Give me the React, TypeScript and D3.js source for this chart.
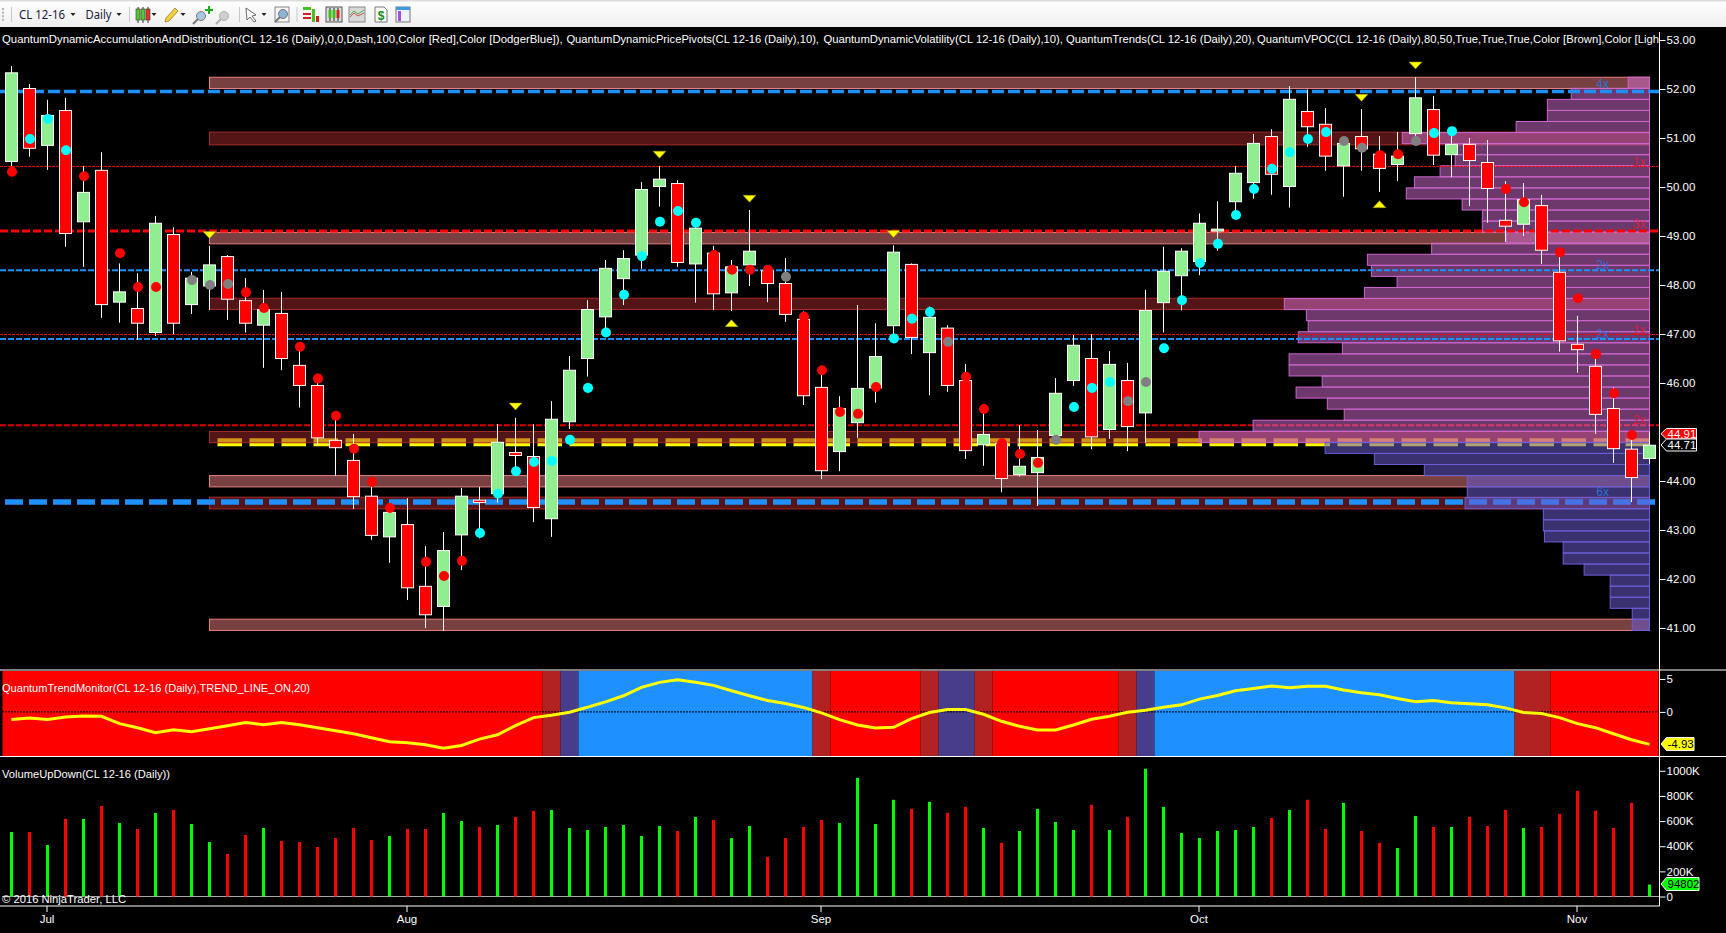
import React, { useEffect, useRef } from "react";
import * as d3 from "d3";

/* ---------- price bars, CL 12-16 daily ---------- */
const opens = [
  50.52, 52.01, 50.85, 51.56, 49.29, 50.34, 47.65, 47.52, 47.03, 49.03,
  47.6, 47.98, 48.58, 47.68, 47.18, 47.42, 46.36, 45.95, 44.83, 44.42,
  43.69, 42.86, 43.11, 41.85, 41.44, 42.9, 43.61, 43.74, 44.58, 44.5,
  43.23, 45.21, 46.5, 47.35, 48.13, 48.61, 50.01, 50.07, 48.43, 48.65,
  47.84, 48.41, 48.29, 48.03, 47.3, 45.91, 44.6, 45.19, 45.9, 47.17,
  48.42, 46.62, 47.12, 46.05, 44.74, 44.77, 44.13, 44.17, 44.93, 46.05,
  46.5, 45.05, 46.05, 45.39, 47.64, 48.19, 48.48, 49.1, 49.7, 50.09,
  51.03, 50.01, 51.54, 51.28, 50.43, 51.03, 50.67, 50.46, 51.09, 51.58,
  50.66, 50.87, 50.5, 49.32, 49.24, 49.62, 48.26, 46.79, 46.34, 45.48,
  44.65, 44.46,
];
const highs = [
  52.47, 52.1, 51.78, 51.82, 50.43, 50.71, 48.44, 48.24, 49.41, 49.18,
  48.27, 48.8, 48.61, 48.14, 47.9, 47.86, 46.74, 46.09, 45.33, 44.96,
  43.98, 43.45, 43.65, 42.67, 42.96, 43.86, 43.88, 45.16, 45.29, 45.16,
  45.63, 46.55, 47.69, 48.51, 48.71, 50.1, 50.43, 50.14, 49.33, 48.8,
  48.51, 49.53, 48.37, 48.55, 47.46, 46.26, 45.73, 47.59, 47.22, 48.81,
  48.44, 47.56, 47.18, 46.39, 45.47, 44.85, 45.14, 45.04, 46.1, 46.98,
  47.0, 46.65, 46.41, 47.9, 48.78, 48.75, 49.46, 49.71, 50.43, 51.08,
  51.18, 52.06, 51.99, 51.61, 50.94, 51.59, 51.04, 51.12, 52.24, 51.86,
  51.14, 51.0, 50.96, 50.12, 50.08, 49.84, 48.67, 47.37, 46.59, 45.91,
  44.94, 45.01,
];
const lows = [
  50.42, 50.62, 50.35, 48.78, 48.37, 47.33, 47.23, 46.88, 46.96, 47.0,
  47.41, 47.49, 47.29, 47.03, 46.31, 46.26, 45.5, 44.73, 44.1, 43.43,
  42.8, 42.33, 41.57, 41.0, 40.94, 42.18, 42.83, 43.56, 44.22, 43.16,
  42.86, 45.06, 46.13, 47.08, 47.59, 48.33, 49.6, 48.37, 47.64, 47.49,
  47.47, 47.98, 47.65, 47.25, 45.55, 44.04, 44.2, 44.88, 45.6, 46.88,
  46.59, 45.75, 45.82, 44.45, 44.31, 43.77, 44.09, 43.49, 44.84, 45.94,
  44.65, 44.86, 44.61, 44.78, 47.03, 47.48, 48.2, 48.7, 49.46, 49.76,
  49.84, 49.58, 50.82, 50.33, 49.8, 50.33, 49.9, 50.12, 50.86, 50.45,
  50.2, 49.61, 49.27, 48.88, 49.0, 48.43, 46.64, 46.21, 44.96, 44.37,
  43.57, 44.35,
];
const closes = [
  52.33, 50.79, 51.46, 49.05, 49.89, 47.6, 47.86, 47.22, 49.26, 47.22,
  48.14, 48.41, 47.71, 47.22, 47.5, 46.5, 45.95, 44.88, 44.68, 43.68,
  42.89, 43.36, 41.82, 41.27, 42.58, 43.69, 43.56, 44.79, 44.52, 43.46,
  45.26, 46.26, 47.5, 48.34, 48.54, 49.95, 50.16, 48.46, 49.16, 47.82,
  48.37, 48.69, 48.03, 47.4, 45.74, 44.21, 45.48, 45.89, 46.54, 48.67,
  46.93, 47.34, 45.95, 44.62, 44.95, 44.05, 44.3, 44.48, 45.79, 46.77,
  44.9, 46.38, 45.11, 47.48, 48.28, 48.69, 49.26, 49.14, 50.28, 50.89,
  50.26, 51.79, 51.23, 50.63, 50.89, 50.78, 50.38, 50.63, 51.82, 50.65,
  50.87, 50.54, 49.97, 49.2, 49.74, 48.71, 46.86, 46.68, 45.36, 44.66,
  44.07, 44.73,
];

/* ---------- dots from the volatility study ---------- */
const dotPrices = [
  50.31, 50.98, 51.39, 50.75, 50.22, null, 48.65, 47.96, 47.96, null,
  48.1, 48.0, 48.02, 47.85, 47.53, null, 46.74, 46.09, 45.33, 44.66,
  43.98, 43.45, null, 42.35, 42.06, 42.37, 42.94, 43.74, 44.2, 44.39,
  44.41, 44.84, 45.9, 47.03, 47.8, 48.59, 49.29, 49.51, 49.27, 48.61,
  48.31, 48.31, 48.31, 48.17, 47.35, 46.26, 45.41, 45.37, 45.92, 46.91,
  47.31, 47.45, 46.84, 46.13, 45.47, 44.77, 44.55, 44.37, 44.84, 45.51,
  45.9, 46.02, 45.63, 46.02, 46.71, 47.69, 48.45, 48.84, 49.43, 49.96,
  50.37, 50.71, 50.98, 51.12, 50.94, 50.8, 50.65, 50.67, 50.94, 51.1,
  51.14, null, null, 49.96, 49.69, null, 48.67, 47.73, 46.59, 45.79,
  44.94, null,
];
const dotKinds = [
  "r", "c", "c", "c", "r", "", "r", "r", "r", "",
  "g", "g", "g", "r", "r", "", "r", "r", "r", "r",
  "r", "r", "", "r", "r", "r", "c", "c", "c", "c",
  "c", "c", "c", "c", "c", "c", "c", "c", "c", "r",
  "r", "r", "r", "g", "r", "r", "r", "r", "r", "c",
  "c", "c", "g", "r", "r", "r", "r", "r", "g", "c",
  "c", "c", "g", "g", "c", "c", "c", "c", "c", "c",
  "c", "c", "c", "c", "g", "g", "r", "r", "g", "c",
  "c", "", "", "r", "r", "", "r", "r", "r", "r",
  "r", "",
];

/* ---------- price pivots ---------- */
const pivotDownBars = [11, 28, 36, 41, 49, 75, 78];
const pivotDownPrices = [49.02, 45.52, 50.66, 49.76, 49.04, 51.82, 52.48];
const pivotUpBars = [40, 76];
const pivotUpPrices = [47.22, 49.65];

/* ---------- accumulation / distribution bands ---------- */
const bandTops = [52.24, 51.12, 49.07, 47.73, 45.01, 44.11, 43.67, 41.18];
const bandBottoms = [52.01, 50.86, 48.84, 47.5, 44.78, 43.88, 43.43, 40.95];
const bandKinds = ["light", "dark", "light", "dark", "dark", "light", "dark", "light"];
const bandStartBar = 11;

/* ---------- volume point of control rows, top to bottom ---------- */
const vpocTop = 52.24;
const vpocBottom = 40.95;
const vpocVolumes = [
  58, 213, 278, 278, 363, 673, 529, 529, 570, 640,
  662, 510, 455, 455, 390, 593, 768, 757, 687, 776,
  994, 934, 929, 956, 836, 981, 981, 891, 962, 877,
  831, 1079, 1226, 883, 749, 613, 496, 496, 502, 289,
  289, 286, 235, 235, 178, 107, 107, 107, 47, 47,
];
const vpocLabelTexts = ["4x", "1x", "3x", "2x", "1x", "2x", "2x", "6x"];
const vpocLabelPrices = [52.12, 50.52, 49.25, 48.42, 47.1, 47.01, 45.26, 43.78];

/* ---------- dynamic levels ---------- */
const levelWideBlue = [51.95];
const levelWideBlueLow = [43.57];
const levelWideRed = [49.1];
const levelMidRed = [45.14];
const levelThinRed = [50.42, 46.99];
const levelThinBlue = [48.3, 46.9];
const levelVpoc = [44.79];

/* ---------- trend monitor ---------- */
const trendValues = [
  -1.17, -0.92, -1.17, -0.77, -0.61, -0.66, -1.79, -2.4, -3.16, -2.7,
  -3.0, -2.55, -2.09, -1.63, -1.94, -1.63, -1.94, -2.4, -2.86, -3.32,
  -3.93, -4.54, -4.69, -5.0, -5.51, -5.1, -4.13, -3.47, -2.09, -0.87,
  -0.51, -0.05, 0.71, 1.53, 2.45, 3.72, 4.49, 4.9, 4.49, 4.03,
  3.21, 2.45, 1.73, 1.28, 0.66, -0.15, -1.17, -1.99, -2.45, -2.35,
  -1.02, -0.1, 0.36, 0.36, -0.36, -1.43, -2.19, -2.76, -2.76, -1.99,
  -1.12, -0.66, -0.05, 0.26, 0.71, 1.07, 1.94, 2.5, 3.21, 3.57,
  3.93, 3.67, 3.88, 3.88, 3.32, 2.91, 2.6, 2.04, 1.53, 1.73,
  1.38, 1.22, 1.07, 0.61, -0.1, -0.26, -0.87, -1.79, -2.4, -3.32,
  -4.23, -4.93,
];
const trendRunColors = [
  "#ff0000", "#b22222", "#483d8b", "#1e90ff", "#b22222", "#ff0000", "#b22222", "#483d8b",
  "#b22222", "#ff0000", "#b22222", "#483d8b", "#1e90ff", "#b22222", "#ff0000",
];
const trendRunLengths = [30, 1, 1, 13, 1, 5, 1, 2, 1, 7, 1, 1, 20, 2, 6];

/* ---------- volume, thousands of contracts ---------- */
const volumes = [
  513, 513, 410, 617, 617, 720, 585, 537, 665, 689,
  577, 433, 338, 489, 545, 441, 433, 394, 465, 545,
  449, 481, 537, 537, 665, 601, 553, 569, 633, 681,
  689, 545, 529, 553, 569, 481, 561, 521, 633, 609,
  465, 561, 314, 465, 553, 609, 585, 944, 577, 769,
  697, 753, 665, 713, 545, 426, 521, 697, 593, 529,
  729, 529, 633, 1016, 713, 505, 465, 521, 529, 553,
  625, 689, 769, 537, 745, 521, 426, 386, 641, 553,
  553, 633, 561, 689, 545, 553, 657, 840, 681, 545,
  745, 94.8,
];

/* ---------- axes ---------- */
const priceTicks = [41, 42, 43, 44, 46, 47, 48, 49, 50, 51, 52, 53];
const trendTicks = [0, 5];
const volumeTicks = [0, 200, 400, 600, 800, 1000];
const monthBars = [2, 22, 45, 66, 87];
const monthLabels = ["Jul", "Aug", "Sep", "Oct", "Nov"];

/* indicator captions along the top of the price panel */
const titleParts = [
  "QuantumDynamicAccumulationAndDistribution(CL 12-16 (Daily),0,0,Dash,100,Color [Red],Color [DodgerBlue]),",
  "QuantumDynamicPricePivots(CL 12-16 (Daily),10),",
  "QuantumDynamicVolatility(CL 12-16 (Daily),10),",
  "QuantumTrends(CL 12-16 (Daily),20),",
  "QuantumVPOC(CL 12-16 (Daily),80,50,True,True,True,Color [Brown],Color [Ligh",
];
const titleStarts = [2, 566.4, 823.4, 1066, 1257];
const titleEnds = [562.6, 819, 1063, 1254.7, 1659];

const FONT = "'Liberation Sans', Arial, sans-serif";
const WIDTH = 1726;
const HEIGHT = 933;
const AXIS_X = 1659.5;

const App: React.FC = () => {
  const svgRef = useRef<SVGSVGElement | null>(null);

  useEffect(() => {
    if (!svgRef.current) return;
    document.body.style.margin = "0";
    document.body.style.background = "#000";

    const svg = d3.select(svgRef.current);
    svg.selectAll("*").remove();
    svg.append("rect").attr("width", WIDTH).attr("height", HEIGHT).attr("fill", "#000");

    const bars = d3.range(closes.length);
    const x = d3.scaleLinear().domain([0, 91]).range([11.5, 1649.5]);
    const y = d3.scaleLinear().domain([41, 53]).range([628, 40]);
    const yTrend = d3.scaleLinear().domain([-5, 5]).range([744.8, 679]);
    const yVolume = d3.scaleLinear().domain([0, 1000]).range([896.5, 770.8]);

    /* ----- toolbar ----- */
    const grad = svg.append("defs").append("linearGradient").attr("id", "tb").attr("x2", 0).attr("y2", 1);
    grad.append("stop").attr("offset", 0).attr("stop-color", "#ffffff");
    grad.append("stop").attr("offset", 1).attr("stop-color", "#efefef");
    const tb = svg.append("g");
    tb.append("rect").attr("width", WIDTH).attr("height", 27).attr("fill", "url(#tb)");
    tb.append("rect").attr("width", WIDTH).attr("height", 1.5).attr("fill", "#dcdcdc");
    d3.range(4).forEach((k) =>
      tb.append("rect").attr("x", 2).attr("y", 8 + k * 3.6).attr("width", 2).attr("height", 2).attr("fill", "#b5b5b5")
    );
    [11.5, 129.5, 239.5, 297].forEach((sx) =>
      tb.append("line").attr("x1", sx).attr("x2", sx).attr("y1", 7).attr("y2", 22).attr("stroke", "#c8c8c8")
    );
    const tbLabel = (t: string, tx: number, len: number) =>
      tb.append("text").attr("x", tx).attr("y", 18.5).attr("font-family", "'Noto Sans', sans-serif").attr("font-size", 12)
        .attr("fill", "#1b1b3a").attr("textLength", len).attr("lengthAdjust", "spacingAndGlyphs").text(t);
    tbLabel("CL 12-16", 19, 46);
    tbLabel("Daily", 85.5, 26);
    [73, 119, 154, 183, 264].forEach((cx) =>
      tb.append("path").attr("d", `M${cx - 2.5} 13 L${cx + 2.5} 13 L${cx} 16 Z`).attr("fill", "#222")
    );
    // chart style icon
    [[138, "#56c832"], [143, "#56c832"], [148, "#e83030"]].forEach(([ix, c]) => {
      tb.append("line").attr("x1", ix as number).attr("x2", ix as number).attr("y1", 7).attr("y2", 23).attr("stroke", "#333");
      tb.append("rect").attr("x", (ix as number) - 2).attr("y", 9).attr("width", 4).attr("height", 11)
        .attr("fill", c as string).attr("stroke", "#333").attr("stroke-width", 0.6);
    });
    // pencil
    tb.append("path").attr("d", "M165 22 L166 18 L175 8 L178 11 L169 21 Z").attr("fill", "#f4cf3c").attr("stroke", "#8a6d20").attr("stroke-width", 0.7);
    // magnifiers
    const glass = (gx: number, gy: number, col: string, ring: string) => {
      tb.append("circle").attr("cx", gx).attr("cy", gy).attr("r", 4.5).attr("fill", col).attr("stroke", ring);
      tb.append("line").attr("x1", gx - 3).attr("y1", gy + 3).attr("x2", gx - 8).attr("y2", gy + 8).attr("stroke", ring).attr("stroke-width", 2);
    };
    glass(201, 16, "#a8c8e0", "#777");
    tb.append("path").attr("d", "M205 9 h3 v-3 h2 v3 h3 v2 h-3 v3 h-2 v-3 h-3 Z").attr("fill", "#18b018");
    glass(224, 16, "#cfcfcf", "#b0b0b0");
    // cursor
    tb.append("path").attr("d", "M246 8 L256 15 L252 16 L256 21 L254 22 L250 17 L247 20 Z").attr("fill", "#fff").attr("stroke", "#444").attr("stroke-width", 0.8);
    // zoom box
    tb.append("rect").attr("x", 275).attr("y", 7).attr("width", 14).attr("height", 15).attr("fill", "#f4f4f4").attr("stroke", "#888");
    glass(283, 14, "#8ab4d8", "#777");
    // strategy icon
    tb.append("rect").attr("x", 303).attr("y", 7).attr("width", 8).attr("height", 3).attr("fill", "#48c020");
    tb.append("rect").attr("x", 303).attr("y", 13).attr("width", 8).attr("height", 2).attr("fill", "#d02020");
    tb.append("rect").attr("x", 303).attr("y", 17).attr("width", 8).attr("height", 2).attr("fill", "#d02020");
    tb.append("rect").attr("x", 312).attr("y", 9).attr("width", 3).attr("height", 13).attr("fill", "#48c020");
    tb.append("rect").attr("x", 316).attr("y", 16).attr("width", 3).attr("height", 6).attr("fill", "#d02020");
    // candle box, line box
    tb.append("rect").attr("x", 326).attr("y", 7).attr("width", 16).attr("height", 15).attr("fill", "#ddd").attr("stroke", "#555");
    [[330, "#40c020"], [334, "#40c020"], [338, "#d82020"]].forEach(([ix, c]) => {
      tb.append("line").attr("x1", ix as number).attr("x2", ix as number).attr("y1", 8).attr("y2", 21).attr("stroke", "#222");
      tb.append("rect").attr("x", (ix as number) - 1.5).attr("y", 10).attr("width", 3).attr("height", 8).attr("fill", c as string);
    });
    tb.append("rect").attr("x", 349).attr("y", 7).attr("width", 16).attr("height", 15).attr("fill", "#d8d8d8").attr("stroke", "#888");
    tb.append("path").attr("d", "M350 15 L354 11 L358 14 L364 10").attr("fill", "none").attr("stroke", "#50b050");
    tb.append("path").attr("d", "M350 17 L354 13 L358 16 L364 13").attr("fill", "none").attr("stroke", "#d05050");
    // dollar document
    tb.append("path").attr("d", "M375 7 h9 l3 3 v12 h-12 Z").attr("fill", "#fff").attr("stroke", "#777");
    tb.append("text").attr("x", 381).attr("y", 20).attr("text-anchor", "middle").attr("font-family", FONT)
      .attr("font-size", 12).attr("font-weight", "bold").attr("fill", "#128a20").text("$");
    // report
    tb.append("rect").attr("x", 396).attr("y", 7).attr("width", 14).attr("height", 15).attr("fill", "#eef3fa").attr("stroke", "#777");
    tb.append("rect").attr("x", 396).attr("y", 7).attr("width", 14).attr("height", 3).attr("fill", "#3f9be0");
    tb.append("rect").attr("x", 398).attr("y", 11).attr("width", 3).attr("height", 10).attr("fill", "#a050e0");

    /* ----- captions ----- */
    svg.append("g").selectAll("text").data(titleParts).enter().append("text")
      .attr("x", (_, i) => titleStarts[i]).attr("y", 43)
      .attr("font-family", FONT).attr("font-size", 11).attr("fill", "#fff")
      .attr("textLength", (_, i) => titleEnds[i] - titleStarts[i]).attr("lengthAdjust", "spacingAndGlyphs")
      .text((d) => d);

    /* ----- levels and bands ----- */
    const hLines = (prices: number[], color: string, width: number, dash: string, x0 = 0, x1 = AXIS_X) =>
      svg.append("g").selectAll("line").data(prices).enter().append("line")
        .attr("x1", x0).attr("x2", x1).attr("y1", (d) => y(d)).attr("y2", (d) => y(d))
        .attr("stroke", color).attr("stroke-width", width).attr("stroke-dasharray", dash);

    hLines(levelVpoc, "#ffff00", 8, "24.5 7.5", x(bandStartBar) + 8, 1652);

    svg.append("g").selectAll("rect").data(bandTops).enter().append("rect")
      .attr("x", x(bandStartBar)).attr("width", x(91) - x(bandStartBar))
      .attr("y", (d) => y(d)).attr("height", (d, i) => y(bandBottoms[i]) - y(d))
      .attr("fill", (_, i) => (bandKinds[i] === "light" ? "rgba(240,128,128,0.5)" : "rgba(165,42,42,0.5)"))
      .attr("stroke", (_, i) => (bandKinds[i] === "light" ? "#e88080" : "#a52a2a"));

    hLines(levelWideBlueLow, "#1e90ff", 5.5, "18 6", 5);
    hLines(levelMidRed, "#d80000", 2, "6 2");

    /* ----- VPOC rows ----- */
    const rowBand = d3.scaleBand<number>().domain(d3.range(vpocVolumes.length)).range([y(vpocTop), y(vpocBottom)]);
    const rowWidth = d3.scaleLinear().domain([0, 1226]).range([0, 450.4]);
    const rowPrice = d3.scaleLinear().domain([0, vpocVolumes.length]).range([vpocTop, vpocBottom]);
    const isAbove = (i: number) => rowPrice(i + 0.5) > closes[closes.length - 1];
    svg.append("g").selectAll("rect").data(vpocVolumes).enter().append("rect")
      .attr("x", (d) => x(91) - rowWidth(d)).attr("width", (d) => rowWidth(d))
      .attr("y", (_, i) => rowBand(i) as number).attr("height", rowBand.bandwidth())
      .attr("fill", (_, i) => (isAbove(i) ? "rgba(218,112,214,0.5)" : "rgba(106,90,205,0.55)"))
      .attr("stroke", (_, i) => (isAbove(i) ? "#cc66cc" : "#6a5fd8"))
      .attr("stroke-width", 1);

    hLines(levelThinRed, "#ff0000", 1, "3 1");
    hLines(levelThinBlue, "#1e90ff", 2, "6 2");
    hLines(levelWideBlue, "#1e90ff", 3.5, "12 4");
    hLines(levelWideRed, "#ff0000", 3, "8 3");

    svg.append("g").selectAll("text").data(vpocLabelTexts).enter().append("text")
      .attr("x", (d, i) => (i === 1 || i === 2 || i === 4 || i === 6 ? 1639.4 : 1602.6))
      .attr("y", (_, i) => y(vpocLabelPrices[i]) + 4.5)
      .attr("text-anchor", "middle").attr("font-family", FONT).attr("font-size", 12)
      .attr("fill", (_, i) => (i === 1 || i === 2 || i === 4 || i === 6 ? "#d8203c" : "#2f6fd8"))
      .text((d) => d);

    /* ----- candles ----- */
    const candles = svg.append("g").selectAll("g").data(bars).enter().append("g");
    candles.append("line")
      .attr("x1", (i) => x(i)).attr("x2", (i) => x(i))
      .attr("y1", (i) => y(highs[i])).attr("y2", (i) => y(lows[i]))
      .attr("stroke", "#fff").attr("stroke-width", 1);
    candles.append("rect")
      .attr("x", (i) => x(i) - 6).attr("width", 12)
      .attr("y", (i) => y(Math.max(opens[i], closes[i])))
      .attr("height", (i) => Math.abs(y(opens[i]) - y(closes[i])))
      .attr("fill", (i) => (closes[i] >= opens[i] ? "#90ee90" : "#ff0000"))
      .attr("stroke", "#fff").attr("stroke-width", 1);

    /* ----- volatility dots ----- */
    const dotColor: Record<string, string> = { r: "#ff0000", c: "#00ffff", g: "#808080" };
    svg.append("g").selectAll("circle").data(bars.filter((i) => dotPrices[i] !== null)).enter().append("circle")
      .attr("cx", (i) => x(i) + 0.5).attr("cy", (i) => y(dotPrices[i] as number)).attr("r", 5)
      .attr("fill", (i) => dotColor[dotKinds[i]]);

    /* ----- pivots ----- */
    const triangle = (px: number, py: number, dir: number) =>
      `M${px - 6.5} ${py - 3.5 * dir} L${px + 6.5} ${py - 3.5 * dir} L${px} ${py + 3.5 * dir} Z`;
    svg.append("g").selectAll("path").data(pivotDownBars).enter().append("path")
      .attr("d", (b, i) => triangle(x(b), y(pivotDownPrices[i]), 1)).attr("fill", "#ffff00").attr("stroke", "#8a8a00").attr("stroke-width", 0.5);
    svg.append("g").selectAll("path").data(pivotUpBars).enter().append("path")
      .attr("d", (b, i) => triangle(x(b), y(pivotUpPrices[i]), -1)).attr("fill", "#ffff00").attr("stroke", "#8a8a00").attr("stroke-width", 0.5);

    /* ----- trend monitor panel ----- */
    const runStarts = d3.cumsum([0, ...trendRunLengths]);
    const cellX = (b: number) => x(b) - 9;
    svg.append("g").selectAll("rect").data(trendRunColors).enter().append("rect")
      .attr("x", (_, i) => cellX(runStarts[i]))
      .attr("width", (_, i) => Math.min(cellX(runStarts[i + 1]), AXIS_X - 1) - cellX(runStarts[i]))
      .attr("y", 671).attr("height", 85).attr("fill", (d) => d);
    svg.append("line").attr("x1", 2).attr("x2", AXIS_X).attr("y1", yTrend(0)).attr("y2", yTrend(0))
      .attr("stroke", "#000").attr("stroke-dasharray", "2 1");
    const trendLine = d3.line<number>().x((_, i) => x(i)).y((d) => yTrend(d));
    svg.append("path").attr("d", trendLine(trendValues)).attr("fill", "none").attr("stroke", "#ffff00").attr("stroke-width", 3);
    [670, 756.5].forEach((ly) =>
      svg.append("line").attr("x1", 0).attr("x2", WIDTH).attr("y1", ly).attr("y2", ly).attr("stroke", "#fff").attr("stroke-width", 1.2)
    );

    /* ----- volume panel ----- */
    svg.append("line").attr("x1", 2).attr("x2", AXIS_X).attr("y1", yVolume(0)).attr("y2", yVolume(0))
      .attr("stroke", "#a8a8a8").attr("stroke-width", 1);
    svg.append("g").selectAll("rect").data(volumes).enter().append("rect")
      .attr("x", (_, i) => x(i) - 1.5).attr("width", 3)
      .attr("y", (d) => yVolume(d)).attr("height", (d) => yVolume(0) - yVolume(d))
      .attr("fill", (_, i) => (closes[i] >= opens[i] ? "#00ff00" : "#ff0000"));

    const panelText = (t: string, tx: number, ty: number, len: number) =>
      svg.append("text").attr("x", tx).attr("y", ty).attr("font-family", FONT).attr("font-size", 11).attr("fill", "#fff")
        .attr("textLength", len).attr("lengthAdjust", "spacingAndGlyphs").text(t);
    panelText("QuantumTrendMonitor(CL 12-16 (Daily),TREND_LINE_ON,20)", 2, 691.5, 308);
    panelText("VolumeUpDown(CL 12-16 (Daily))", 2, 777.5, 168);
    panelText("© 2016 NinjaTrader, LLC", 2, 903, 124);

    /* ----- axes ----- */
    const styleAxis = (g: d3.Selection<SVGGElement, unknown, null, undefined>) => {
      g.select(".domain").remove();
      g.selectAll("line").attr("stroke", "#fff");
      g.selectAll("text").attr("fill", "#fff").attr("font-family", FONT).attr("font-size", 11.5);
    };
    svg.append("g").attr("transform", `translate(${AXIS_X},0)`)
      .call(d3.axisRight(y).tickValues(priceTicks).tickFormat(d3.format(".2f") as any).tickSize(6).tickPadding(1) as any)
      .call(styleAxis as any);
    svg.append("g").attr("transform", `translate(${AXIS_X},0)`)
      .call(d3.axisRight(yTrend).tickValues(trendTicks).tickFormat(d3.format("d") as any).tickSize(6).tickPadding(1) as any)
      .call(styleAxis as any);
    svg.append("g").attr("transform", `translate(${AXIS_X},0)`)
      .call(d3.axisRight(yVolume).tickValues(volumeTicks).tickFormat(((d: number) => (d === 0 ? "0" : `${d}K`)) as any).tickSize(6).tickPadding(1) as any)
      .call(styleAxis as any);
    svg.append("g").attr("transform", "translate(-1,906)")
      .call(d3.axisBottom(x).tickValues(monthBars).tickFormat(((_: number, i: number) => monthLabels[i]) as any).tickSize(6).tickPadding(3) as any)
      .call(styleAxis as any);
    svg.append("line").attr("x1", AXIS_X).attr("x2", AXIS_X).attr("y1", 32).attr("y2", 906).attr("stroke", "#fff");
    svg.append("line").attr("x1", 0).attr("x2", AXIS_X).attr("y1", 906).attr("y2", 906).attr("stroke", "#fff");

    /* ----- value tags ----- */
    const tag = (t: string, x1: number, yTop: number, yBot: number, fill: string, stroke: string, color: string) => {
      const mid = (yTop + yBot) / 2;
      svg.append("path")
        .attr("d", `M${AXIS_X + 1.5} ${mid} L${AXIS_X + 7} ${yTop} L${x1} ${yTop} L${x1} ${yBot} L${AXIS_X + 7} ${yBot} Z`)
        .attr("fill", fill).attr("stroke", stroke);
      svg.append("text").attr("x", AXIS_X + 8).attr("y", mid + 4).attr("font-family", FONT).attr("font-size", 11.5)
        .attr("fill", color).text(t);
    };
    tag("44.91", 1696.5, 428.5, 439, "#ff0000", "#fff", "#fff");
    tag("44.71", 1696.5, 439, 451, "#000", "#fff", "#fff");
    tag("-4.93", 1694, 737.5, 750.5, "#ffff00", "#fff", "#000");
    tag("94802", 1699, 877.5, 890.5, "#00ff00", "#fff", "#000");
  }, []);

  return <svg ref={svgRef} width={WIDTH} height={HEIGHT} style={{ display: "block", position: "absolute", left: 0, top: 0 }} />;
};

export default App;
